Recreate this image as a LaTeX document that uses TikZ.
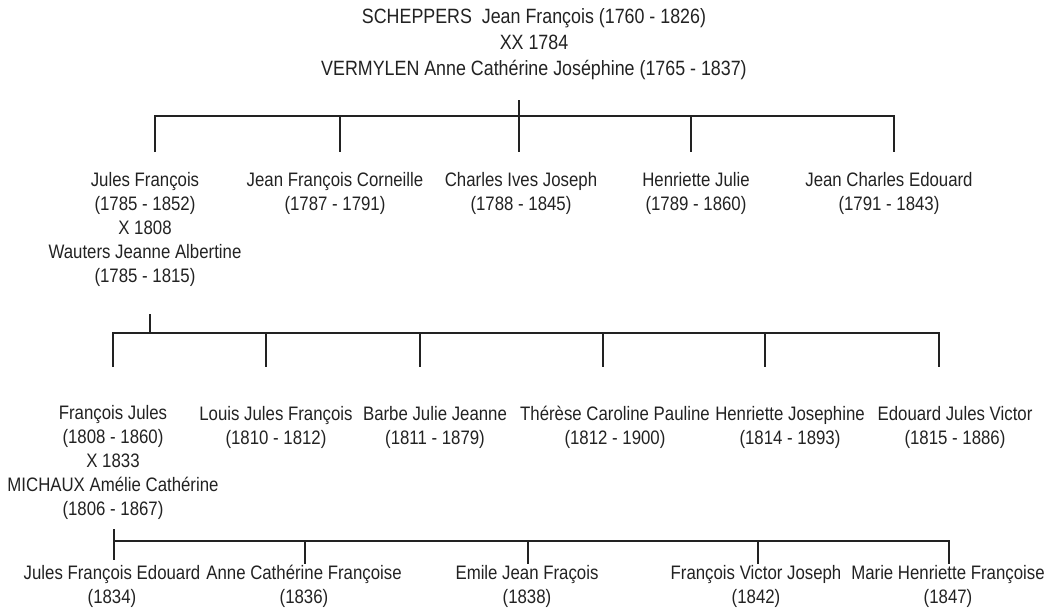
\documentclass[tikz,border=0pt]{standalone}
\usepackage{fontspec}
\setmainfont{Liberation Sans}[FakeStretch=0.862]
\definecolor{ink}{HTML}{222222}
\tikzset{
  person/.style={align=center,inner sep=0pt,text=ink,font=\fontsize{19.5}{24}\selectfont},
  couple/.style={person,font=\fontsize{20.7}{26}\selectfont},
  tree/.style={draw=ink,line width=1.7pt,line join=miter}
}
\begin{document}
\begin{tikzpicture}[x=1pt,y=-1pt]
	\useasboundingbox (0,0) rectangle (1053,608);

	% parents
	\node[couple] (root) at (534,44) {SCHEPPERS\ \ Jean François (1760 - 1826)\\XX 1784\\VERMYLEN Anne Cathérine Joséphine (1765 - 1837)};

	% first generation
	\node[person] (jules) at (145,229) {Jules François\\(1785 - 1852)\\X 1808\\Wauters Jeanne Albertine\\(1785 - 1815)};
	\node[person] (corneille) at (335,193) {Jean François Corneille\\(1787 - 1791)};
	\node[person] (charles) at (521,193) {Charles Ives Joseph\\(1788 - 1845)};
	\node[person] (henriette) at (696,193) {Henriette Julie\\(1789 - 1860)};
	\node[person] (jeancharles) at (889,193) {Jean Charles Edouard\\(1791 - 1843)};

	% second generation
	\node[person] (fjules) at (113,462) {François Jules\\(1808 - 1860)\\X 1833\\MICHAUX Amélie Cathérine\\(1806 - 1867)};
	\node[person] (louis) at (276,427) {Louis Jules François\\(1810 - 1812)};
	\node[person] (barbe) at (435,427) {Barbe Julie Jeanne\\(1811 - 1879)};
	\node[person] (therese) at (615,427) {Thérèse Caroline Pauline\\(1812 - 1900)};
	\node[person] (henriettej) at (790,427) {Henriette Josephine\\(1814 - 1893)};
	\node[person] (edouard) at (955,427) {Edouard Jules Victor\\(1815 - 1886)};

	% third generation
	\node[person] (jfe) at (112,586) {Jules François Edouard\\(1834)};
	\node[person] (acf) at (304,586) {Anne Cathérine Françoise\\(1836)};
	\node[person] (emile) at (527,586) {Emile Jean Fraçois\\(1838)};
	\node[person] (fvj) at (756,586) {François Victor Joseph\\(1842)};
	\node[person] (mhf) at (948,586) {Marie Henriette Françoise\\(1847)};

	% brackets
	\coordinate (root-stem) at (519,100);
	\foreach \n/\x in {jules/155,corneille/340,charles/519,henriette/691,jeancharles/894}{
		\coordinate (\n-up) at (\x,116);
		\coordinate (\n-dn) at (\x,152);
	}
	\draw[tree] (jules-dn) -- (jules-up) -- (jeancharles-up) -- (jeancharles-dn);
	\draw[tree] (root-stem) -- (charles-dn);
	\draw[tree] (corneille-up) -- (corneille-dn);
	\draw[tree] (henriette-up) -- (henriette-dn);

	\coordinate (jules-stem) at (150,314);
	\coordinate (jules-bar) at (150,333);
	\foreach \n/\x in {fjules/113,louis/266,barbe/420,therese/603,henriettej/765,edouard/939}{
		\coordinate (\n-up) at (\x,333);
		\coordinate (\n-dn) at (\x,367);
	}
	\draw[tree] (fjules-dn) -- (fjules-up) -- (edouard-up) -- (edouard-dn);
	\draw[tree] (jules-stem) -- (jules-bar);
	\foreach \n in {louis,barbe,therese,henriettej}
		\draw[tree] (\n-up) -- (\n-dn);

	\coordinate (fjules-stem) at (114,529);
	\foreach \n/\x in {jfe/114,acf/305,emile/528,fvj/758,mhf/949}{
		\coordinate (\n-up) at (\x,541);
		\coordinate (\n-dn) at (\x,564);
	}
	\draw[tree] (jfe-up) -- (mhf-up) -- (mhf-dn);
	\draw[tree] (fjules-stem) -- ([yshift=4pt]jfe-dn);
	\foreach \n in {acf,emile,fvj}
		\draw[tree] (\n-up) -- (\n-dn);
\end{tikzpicture}
\end{document}
